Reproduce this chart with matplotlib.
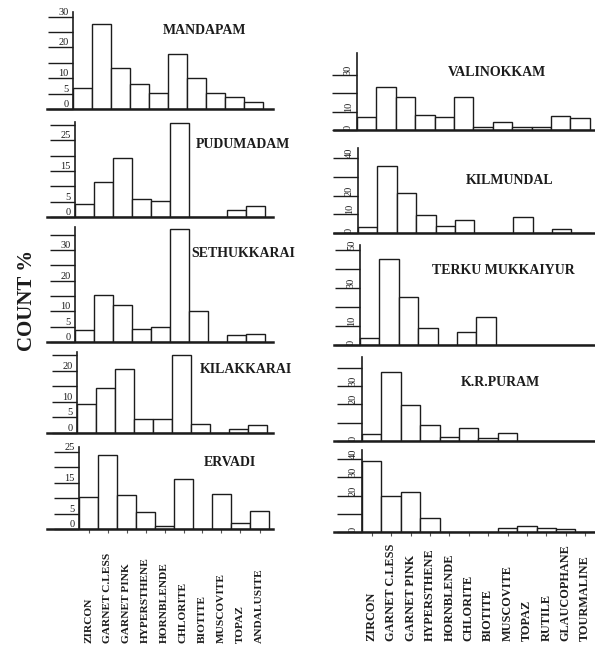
import matplotlib
matplotlib.use('Agg')
import matplotlib.pyplot as plt
import matplotlib.transforms as mtransforms

plt.rcParams['font.family'] = ['Liberation Serif', 'DejaVu Serif']

# minerals on the x axis
left_minerals = ['ZIRCON', 'GARNET C.LESS', 'GARNET PINK', 'HYPERSTHENE', 'HORNBLENDE',
                 'CHLORITE', 'BIOTITE', 'MUSCOVITE', 'TOPAZ', 'ANDALUSITE']
right_minerals = ['ZIRCON', 'GARNET C.LESS', 'GARNET PINK', 'HYPERSTHENE', 'HORNBLENDE',
                  'CHLORITE', 'BIOTITE', 'MUSCOVITE', 'TOPAZ', 'RUTILE', 'GLAUCOPHANE', 'TOURMALINE']

# count % per station
mandapam = [6.7, 27.7, 13.3, 8.0, 5.3, 17.8, 10.2, 5.3, 4.0, 2.2]
pudumadam = [4.1, 11.4, 19.3, 6.0, 5.1, 30.6, 0, 0, 2.4, 3.5]
sethukkarai = [3.8, 15.4, 12.2, 4.3, 4.8, 37.0, 10.2, 0, 2.2, 2.7]
kilakkarai = [9.3, 14.4, 20.7, 4.6, 4.5, 25.0, 2.9, 0, 1.3, 2.7]
ervadi = [10.5, 23.8, 10.9, 5.4, 1.1, 16.1, 0, 11.3, 2.0, 5.7]

valinokkam = [7.3, 23.3, 18.2, 8.2, 7.3, 18.2, 1.5, 4.5, 1.8, 1.8, 7.6, 6.4]
kilmundal = [3.2, 36.0, 21.6, 9.5, 3.8, 7.1, 0, 0, 8.6, 0, 2.3, 0]
terku = [3.5, 45.0, 25.4, 9.1, 0, 7.0, 14.6, 0, 0, 0, 0, 0]
krpuram = [4.0, 38.0, 19.7, 8.6, 2.2, 7.3, 1.8, 4.2, 0, 0, 0, 0]
last_station = [39.0, 19.7, 22.0, 7.5, 0, 0, 0, 2.0, 3.3, 2.0, 1.8, 0]

left_titles = ['MANDAPAM', 'PUDUMADAM', 'SETHUKKARAI', 'KILAKKARAI', 'ERVADI']
right_titles = ['VALINOKKAM', 'KILMUNDAL', 'TERKU MUKKAIYUR', 'K.R.PURAM', '']

left_yticks = [[0, 5, 10, 15, 20, 25, 30], [0, 5, 10, 15, 20, 25, 30],
               [0, 5, 10, 15, 20, 25, 30, 35], [0, 5, 10, 15, 20, 25], [0, 5, 10, 15, 20, 25]]
left_ylabels = [['0', '5', '10', '', '20', '', '30'], ['0', '5', '', '15', '', '25', ''],
                ['0', '5', '10', '', '20', '', '30', ''], ['0', '5', '10', '', '20', ''],
                ['0', '5', '', '15', '', '25']]
right_yticks = [[0, 10, 20, 30], [0, 10, 20, 30, 40], [0, 10, 20, 30, 40, 50],
                [0, 10, 20, 30, 40], [0, 10, 20, 30, 40]]
right_ylabels = [['0', '10', '', '30'], ['0', '10', '20', '', '40'], ['0', '10', '', '30', '', '50'],
                 ['0', '', '20', '30', ''], ['0', '', '20', '30', '40']]

W, H = 595, 646
ink = '#1c1c1c'
fig = plt.figure(figsize=(W / 100, H / 100), dpi=100)

# pixel layout: spine x, baseline y, top y, ymax
left_layout = [(73, 109, 12, 31.5), (75, 217, 122, 31), (75, 342, 227, 37.5),
               (77, 433, 352, 26), (79, 529, 447, 26.5)]
right_layout = [(357, 130, 53, 42), (358, 233, 148, 45.5), (360, 345, 245, 52.5),
                (362, 441, 357, 46), (362, 532, 450, 45)]
left_title_pos = [(205, 30), (243, 145), (243, 253), (246, 370), (230, 463)]
right_title_pos = [(497, 73), (510, 181), (503, 271), (500, 383)]


def panel(values, spine, base, top, ymax, unit, left_px, right_px, ticks, labels, rot, xticks):
    ax = fig.add_axes([left_px / W, 1 - base / H, (right_px - left_px) / W, (base - top) / H])
    ax.set_facecolor('none')
    ax.bar(range(len(values)), values, width=1, align='edge', color='white',
           edgecolor=ink, linewidth=1.0)
    ax.set_xlim((left_px - spine) / unit, (right_px - spine) / unit)
    ax.set_ylim(0, ymax)
    for s in ['top', 'right']:
        ax.spines[s].set_visible(False)
    ax.spines['left'].set_position(('data', 0))
    ax.spines['left'].set_linewidth(1.2)
    ax.spines['left'].set_color(ink)
    ax.spines['bottom'].set_linewidth(1.8)
    ax.spines['bottom'].set_color(ink)
    ax.set_yticks(ticks)
    ax.set_yticklabels(labels)
    ax.tick_params(axis='y', direction='out', length=18, width=1.0, color=ink,
                   pad=-15, labelsize=7.5, labelcolor=ink, labelrotation=rot)
    for lab in ax.get_yticklabels():
        lab.set_va('bottom')
        lab.set_ha('right')
    if xticks:
        ax.set_xticks([i + 0.5 for i in range(len(values))])
        ax.set_xticklabels([])
        ax.tick_params(axis='x', direction='out', length=3, width=0.8, color='#555555')
    else:
        ax.set_xticks([])
    return ax


left_data = [mandapam, pudumadam, sethukkarai, kilakkarai, ervadi]
right_data = [valinokkam, kilmundal, terku, krpuram, last_station]

for i, vals in enumerate(left_data):
    spine, base, top, ymax = left_layout[i]
    ax = panel(vals, spine, base, top, ymax, 19.0, 47, 273, left_yticks[i], left_ylabels[i], 0, i == 4)
    fig.text(left_title_pos[i][0] / W, 1 - left_title_pos[i][1] / H, left_titles[i],
             ha='center', va='center', fontsize=10, fontweight='bold', color=ink)
    if i == 4:
        tr = mtransforms.blended_transform_factory(ax.transData, fig.transFigure)
        for j, name in enumerate(left_minerals):
            ax.text(j + 0.5, 1 - 643 / H, name, transform=tr, rotation=90, ha='center',
                    va='bottom', fontsize=8.2, fontweight='bold', color=ink)

for i, vals in enumerate(right_data):
    spine, base, top, ymax = right_layout[i]
    ax = panel(vals, spine, base, top, ymax, 19.4, 334, 596, right_yticks[i], right_ylabels[i], 90, i == 4)
    if right_titles[i]:
        fig.text(right_title_pos[i][0] / W, 1 - right_title_pos[i][1] / H, right_titles[i],
                 ha='center', va='center', fontsize=10, fontweight='bold', color=ink)
    if i == 4:
        tr = mtransforms.blended_transform_factory(ax.transData, fig.transFigure)
        for j, name in enumerate(right_minerals):
            ax.text(j + 0.5, 1 - 641 / H, name, transform=tr, rotation=90, ha='center',
                    va='bottom', fontsize=8.8, fontweight='bold', color=ink)

fig.text(27 / W, 1 - 300 / H, 'COUNT %', rotation=90, ha='center', va='center',
         fontsize=15, fontweight='bold', color=ink)

fig.savefig('out.png', dpi=100)
